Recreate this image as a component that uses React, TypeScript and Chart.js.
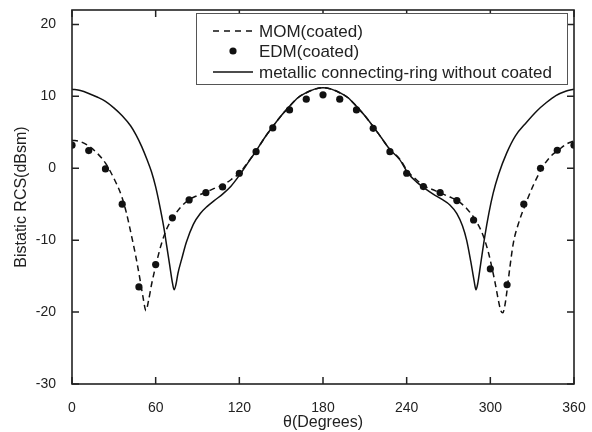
import { useEffect, useRef } from "react";
import { Chart, registerables } from "chart.js";

Chart.register(...registerables);

const FONT = '"Liberation Sans", Arial, Helvetica, sans-serif';

// MOM (coated) — dashed curve
const momTheta = [0, 6, 12, 18, 24, 30, 35.6, 39, 42.8, 46, 48.8, 51, 53, 55, 57, 60.5, 64, 68, 73, 78, 84.6, 90, 96.6, 102, 108.5, 114, 120.5, 126, 132, 138, 144, 150, 156, 162, 168, 174, 180, 186, 192, 198, 204, 210, 216, 222, 228, 235, 241, 247, 253, 259, 265, 271, 277, 283, 289, 293, 296, 299, 301, 303.5, 305.7, 307.5, 309, 310.5, 311.7, 314, 316.5, 320, 325, 331, 337, 343, 348.8, 354, 360];
const momValues = [3.9, 3.7, 3.1, 2.1, 0.7, -1.4, -3.9, -6.2, -9.5, -12.5, -15.5, -18.0, -19.8, -18.3, -16.2, -13.2, -10.6, -8.4, -6.7, -5.4, -4.3, -3.8, -3.3, -2.8, -2.3, -1.6, -0.6, 0.8, 2.4, 4.2, 5.8, 7.3, 8.6, 9.8, 10.5, 11.0, 11.2, 11.0, 10.5, 9.8, 8.6, 7.3, 5.8, 4.2, 2.6, 1.3, -0.5, -1.6, -2.5, -3.0, -3.5, -4.0, -4.6, -5.6, -7.1, -8.5, -10.0, -12.0, -13.7, -16.0, -18.3, -19.8, -20.1, -19.0, -17.4, -13.8, -10.4, -7.8, -5.1, -2.3, 0.0, 1.6, 2.5, 3.3, 3.8];

// EDM (coated) — dots
const edmTheta = [0, 12, 24, 36, 48, 60, 72, 84, 96, 108, 120, 132, 144, 156, 168, 180, 192, 204, 216, 228, 240, 252, 264, 276, 288, 300, 312, 324, 336, 348, 360];
const edmValues = [3.2, 2.45, -0.1, -5.0, -16.5, -13.4, -6.9, -4.4, -3.4, -2.6, -0.7, 2.3, 5.6, 8.1, 9.6, 10.2, 9.6, 8.1, 5.55, 2.3, -0.7, -2.55, -3.4, -4.5, -7.2, -14.0, -16.2, -5.0, 0.0, 2.5, 3.2];

// metallic connecting-ring without coated — solid curve
const metalTheta = [0, 6, 12, 18, 24, 30, 36, 42, 46, 50, 54, 57, 60, 63, 66, 68, 70, 72, 73.2, 74.5, 76, 78.7, 82, 87, 92, 97, 102, 108, 114, 120, 126, 132, 138, 144, 150, 156, 162, 168, 174, 180, 186, 192, 198, 204, 210, 216, 222, 228, 235, 241, 247, 253, 259, 266, 271, 276, 280, 283, 286, 288.5, 289.7, 291, 293, 296, 299, 302, 306, 311.7, 318, 326, 333, 340, 347, 354, 360];
const metalValues = [11.0, 10.8, 10.4, 9.9, 9.3, 8.4, 7.3, 5.9, 4.6, 3.0, 1.1, -0.5, -2.6, -5.3, -8.4, -10.9, -13.4, -15.9, -16.9, -16.2, -14.6, -12.6, -10.3, -7.8, -6.3, -5.3, -4.5, -3.6, -2.5, -1.0, 0.7, 2.4, 4.2, 5.8, 7.3, 8.6, 9.8, 10.5, 11.0, 11.2, 11.0, 10.5, 9.8, 8.6, 7.3, 5.8, 4.2, 2.6, 1.2, -0.7, -1.9, -2.8, -3.6, -4.4, -5.1, -6.3, -8.0, -10.0, -13.0, -15.8, -16.9, -16.0, -13.4, -9.5, -6.2, -3.5, -0.8, 2.1, 4.5, 6.4, 7.9, 9.1, 10.1, 10.7, 11.0];

const xTicks = [0, 60, 120, 180, 240, 300, 360];
const yTicks = [-30, -20, -10, 0, 10, 20];

const legendLabels = ["MOM(coated)", "EDM(coated)", "metallic connecting-ring without coated"];

const toPoints = (xs: number[], ys: number[]) => xs.map((x, i) => ({ x, y: ys[i] }));

const framePlugin = {
  id: "frameAndTicks",
  afterDraw(chart: any) {
    const { ctx, chartArea } = chart;
    const { left, right, top, bottom } = chartArea;
    const xs = chart.scales.x;
    const ys = chart.scales.y;
    const tl = 7;
    ctx.save();
    ctx.strokeStyle = "#222";
    ctx.lineWidth = 1.5;
    ctx.beginPath();
    xTicks.forEach((v) => {
      const px = xs.getPixelForValue(v);
      ctx.moveTo(px, bottom);
      ctx.lineTo(px, bottom - tl);
      ctx.moveTo(px, top);
      ctx.lineTo(px, top + tl);
    });
    yTicks.forEach((v) => {
      const py = ys.getPixelForValue(v);
      ctx.moveTo(left, py);
      ctx.lineTo(left + tl, py);
      ctx.moveTo(right, py);
      ctx.lineTo(right - tl, py);
    });
    ctx.stroke();
    ctx.lineWidth = 1.6;
    ctx.strokeRect(left, top, right - left, bottom - top);
    ctx.restore();
  },
};

const legendPlugin = {
  id: "insideLegend",
  afterDraw(chart: any) {
    const { ctx } = chart;
    const bx = 196, by = 13, bw = 371, bh = 71;
    ctx.save();
    ctx.fillStyle = "#fff";
    ctx.fillRect(bx, by, bw, bh);
    ctx.strokeStyle = "#555";
    ctx.lineWidth = 1;
    ctx.strokeRect(bx + 0.5, by + 0.5, bw, bh);
    const rows = [31, 51, 72];
    const sx0 = 213, sx1 = 253, tx = 259;
    ctx.strokeStyle = "#111";
    ctx.lineWidth = 1.5;
    ctx.setLineDash([6, 5]);
    ctx.beginPath();
    ctx.moveTo(sx0, rows[0]);
    ctx.lineTo(sx1, rows[0]);
    ctx.stroke();
    ctx.setLineDash([]);
    ctx.fillStyle = "#111";
    ctx.beginPath();
    ctx.arc((sx0 + sx1) / 2, rows[1], 3.6, 0, Math.PI * 2);
    ctx.fill();
    ctx.beginPath();
    ctx.moveTo(sx0, rows[2]);
    ctx.lineTo(sx1, rows[2]);
    ctx.stroke();
    ctx.fillStyle = "#222";
    ctx.font = `17px ${FONT}`;
    ctx.textBaseline = "middle";
    ctx.textAlign = "left";
    legendLabels.forEach((t, i) => ctx.fillText(t, tx, rows[i] + 1));
    ctx.restore();
  },
};

export default function App() {
  const ref = useRef<HTMLCanvasElement>(null);
  useEffect(() => {
    document.body.style.margin = "0";
    const chart = new Chart(ref.current as HTMLCanvasElement, {
      type: "line",
      data: {
        datasets: [
          {
            label: legendLabels[1],
            data: toPoints(edmTheta, edmValues),
            showLine: false,
            pointRadius: 3.6,
            pointBackgroundColor: "#111",
            pointBorderColor: "#111",
            pointBorderWidth: 0,
            order: 0,
          },
          {
            label: legendLabels[0],
            data: toPoints(momTheta, momValues),
            borderColor: "#111",
            borderWidth: 1.5,
            borderDash: [6, 4],
            pointRadius: 0,
            cubicInterpolationMode: "monotone",
            fill: false,
            order: 1,
          },
          {
            label: legendLabels[2],
            data: toPoints(metalTheta, metalValues),
            borderColor: "#111",
            borderWidth: 1.5,
            pointRadius: 0,
            cubicInterpolationMode: "monotone",
            fill: false,
            order: 2,
          },
        ],
      },
      options: {
        animation: false,
        responsive: false,
        maintainAspectRatio: false,
        layout: { padding: { top: 10, right: 18, left: 0, bottom: 0 } },
        plugins: { legend: { display: false }, tooltip: { enabled: false } },
        scales: {
          x: {
            type: "linear",
            min: 0,
            max: 360,
            ticks: { stepSize: 60, padding: 8, color: "#222", font: { family: FONT, size: 14 }, maxRotation: 0 },
            afterBuildTicks: (s: any) => { s.ticks = xTicks.map((v) => ({ value: v })); },
            grid: { display: false },
            border: { display: false },
            title: { display: true, text: "θ(Degrees)", color: "#222", font: { family: FONT, size: 16 }, padding: { top: 0, bottom: 0 } },
            afterFit: (s: any) => { s.height = 48; s.paddingLeft = 0; s.paddingRight = 0; },
          },
          y: {
            type: "linear",
            min: -30,
            max: 22,
            ticks: { stepSize: 10, padding: 8, color: "#222", font: { family: FONT, size: 14 } },
            afterBuildTicks: (s: any) => { s.ticks = yTicks.map((v) => ({ value: v })); },
            grid: { display: false },
            border: { display: false },
            title: { display: true, text: "Bistatic RCS(dBsm)", color: "#222", font: { family: FONT, size: 16 }, padding: { top: 12, bottom: 0 } },
            afterFit: (s: any) => { s.width = 72; s.paddingTop = 0; s.paddingBottom = 0; },
          },
        },
      },
      plugins: [framePlugin, legendPlugin],
    } as any);
    return () => chart.destroy();
  }, []);
  return (
    <div style={{ width: 592, height: 432 }}>
      <canvas ref={ref} width={592} height={432} style={{ width: 592, height: 432, display: "block" }} />
    </div>
  );
}
